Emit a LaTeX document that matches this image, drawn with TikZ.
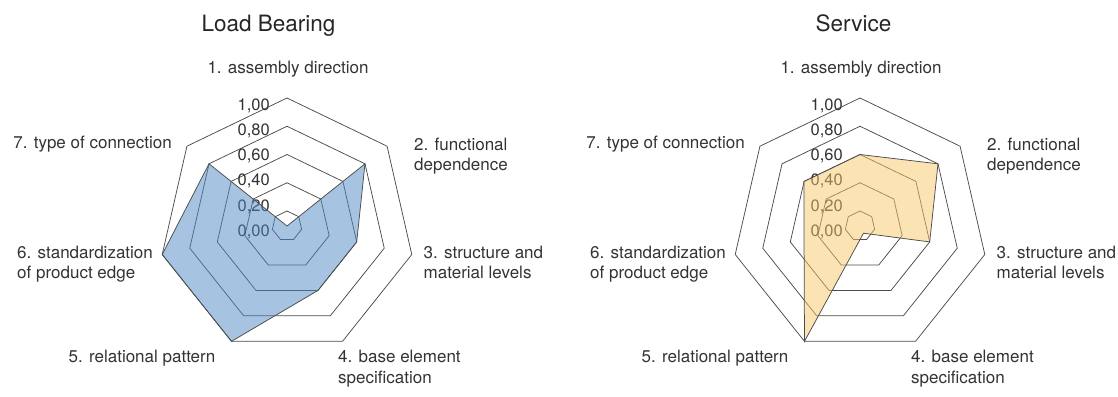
\documentclass[tikz,border=0pt]{standalone}
\usepackage{fontspec}
\setmainfont{TeX Gyre Heros}
\definecolor{gridgray}{gray}{0.3}
\definecolor{loadblue}{RGB}{77,137,197}
\definecolor{servicetan}{RGB}{247,199,105}
\tikzset{
  ring/.style={draw=gridgray, line width=0.75pt},
  axislabel/.style={font=\fontsize{17}{20.5}\selectfont, text=black!80, inner sep=0pt, align=left},
  ticklabel/.style={font=\fontsize{16.5}{20}\selectfont, text=black!80, anchor=base east, inner sep=0pt},
  charttitle/.style={font=\fontsize{22.5}{27}\selectfont, text=black!85, anchor=base, inner sep=0pt},
  datafill/.style={fill opacity=0.5, draw=black!70, line width=0.75pt},
}
\begin{document}
\begin{tikzpicture}[x=1pt,y=-1pt]
\useasboundingbox (0,0) rectangle (1118,396);

% Load Bearing
\begin{scope}[shift={(287,226)}]
  \foreach \r in {15,43.25,71.5,99.75,128}
    \draw[ring] (-90:\r) -- (-38.57:\r) -- (12.86:\r) -- (64.29:\r) -- (115.71:\r) -- (167.14:\r) -- (218.57:\r) -- cycle;
  \foreach \v [count=\i from 0] in {{1,00},{0,80},{0,60},{0,40},{0,20},{0,00}}
    \node[ticklabel] (lb-t\i) at (-17,{-116+25.3*\i}) {\v};
  \draw[datafill, fill=loadblue] (-90:0) -- (-38.57:99.75) -- (12.86:71.5) -- (64.29:71.5) -- (115.71:128) -- (167.14:128) -- (218.57:99.75) -- cycle;
  \node[charttitle] (lb-title) at (-18.5,-194.5) {Load Bearing};
  \node[axislabel, anchor=base] (lb-a1) at (1,-152.5) {1. assembly direction};
  \node[axislabel, anchor=base west] (lb-a2) at (127,-55.5) {2. functional\\dependence};
  \node[axislabel, anchor=base west] (lb-a3) at (136.5,52.5) {3. structure and\\material levels};
  \node[axislabel, anchor=base west] (lb-a4) at (51,157.2) {4. base element\\specification};
  \node[axislabel, anchor=base east] (lb-a5) at (-71.5,136.7) {5. relational pattern};
  \node[axislabel, anchor=base west] (lb-a6) at (-270,52.5) {6. standardization\\of product edge};
  \node[axislabel, anchor=base east] (lb-a7) at (-115,-77.5) {7. type of connection};
\end{scope}

% Service
\begin{scope}[shift={(860,226)}]
  \foreach \r in {15,43.25,71.5,99.75,128}
    \draw[ring] (-90:\r) -- (-38.57:\r) -- (12.86:\r) -- (64.29:\r) -- (115.71:\r) -- (167.14:\r) -- (218.57:\r) -- cycle;
  \foreach \v [count=\i from 0] in {{1,00},{0,80},{0,60},{0,40},{0,20},{0,00}}
    \node[ticklabel] (sv-t\i) at (-17,{-116+25.3*\i}) {\v};
  \draw[datafill, fill=servicetan] (-90:71.5) -- (-38.57:99.75) -- (12.86:71.5) -- (64.29:8) -- (115.71:128) -- (167.14:57.4) -- (218.57:71.5) -- cycle;
  \node[charttitle] (sv-title) at (-6.5,-194.5) {Service};
  \node[axislabel, anchor=base] (sv-a1) at (1,-152.5) {1. assembly direction};
  \node[axislabel, anchor=base west] (sv-a2) at (127,-55.5) {2. functional\\dependence};
  \node[axislabel, anchor=base west] (sv-a3) at (136.5,52.5) {3. structure and\\material levels};
  \node[axislabel, anchor=base west] (sv-a4) at (51,157.2) {4. base element\\specification};
  \node[axislabel, anchor=base east] (sv-a5) at (-71.5,136.7) {5. relational pattern};
  \node[axislabel, anchor=base west] (sv-a6) at (-270,52.5) {6. standardization\\of product edge};
  \node[axislabel, anchor=base east] (sv-a7) at (-115,-77.5) {7. type of connection};
\end{scope}
\end{tikzpicture}
\end{document}
